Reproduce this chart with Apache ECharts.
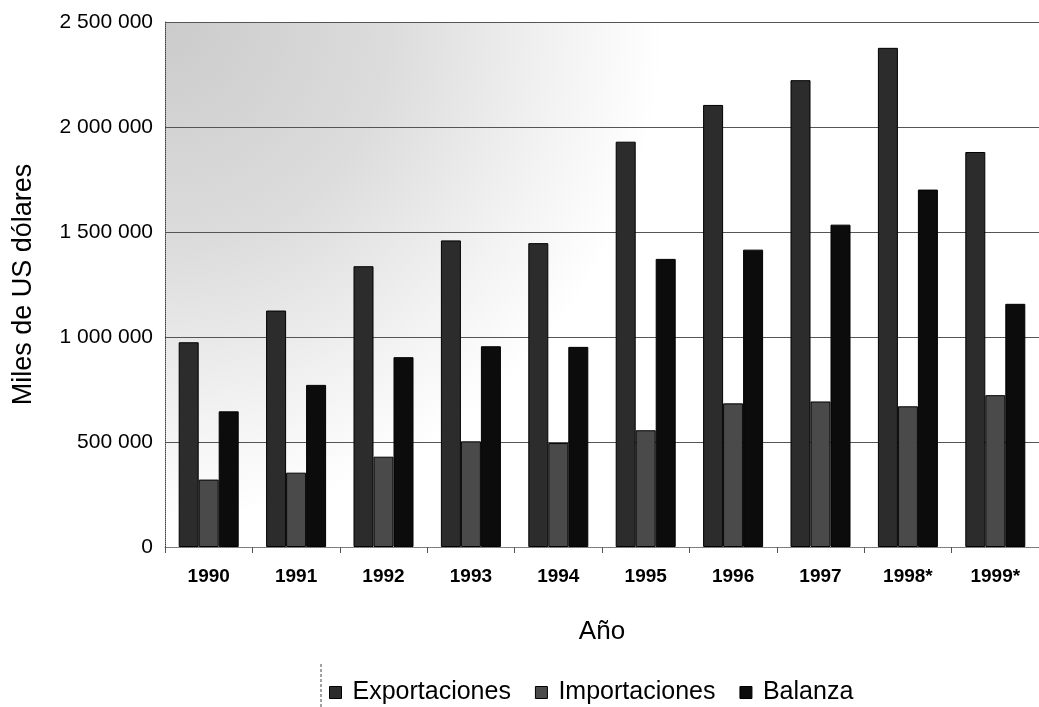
<!DOCTYPE html>
<html>
<head>
<meta charset="utf-8">
<script src="https://cdn.jsdelivr.net/npm/echarts@6/dist/echarts.min.js"></script>
<style>
html,body{margin:0;padding:0;background:#fff;}
#c{width:1039px;height:707px;}
</style>
</head>
<body>
<div id="c"></div>
<script>
const years = ['1990','1991','1992','1993','1994','1995','1996','1997','1998*','1999*'];
const exportaciones = [975000,1126000,1337000,1460000,1447000,1930000,2105000,2223000,2377000,1881000];
const importaciones = [321000,354000,430000,503000,495000,556000,684000,693000,670000,723000];
const balanza = [646000,772000,904000,956000,953000,1372000,1416000,1535000,1702000,1158000];
const yTicks = {min:0, max:2500000, interval:500000};

function fmt(v){ return String(v).replace(/\B(?=(\d{3})+(?!\d))/g,' '); }

const chart = echarts.init(document.getElementById('c'));
const font = 'Liberation Sans, Arial, sans-serif';
const barStyle = (c) => ({color:c, borderColor:'#000', borderWidth:1});
chart.setOption({
  animation:false,
  backgroundColor:'#fff',
  textStyle:{fontFamily:font, color:'#000'},
  grid:{left:165, top:22, width:884, height:525, show:true, borderWidth:0,
    backgroundColor:new echarts.graphic.RadialGradient(0,0,0.95,[
      {offset:0,color:'#cbcbcb'},{offset:0.45,color:'#dcdcdc'},{offset:0.8,color:'#f3f3f3'},{offset:1,color:'#ffffff'}])},
  legend:{left:329, top:680, padding:0, itemWidth:12, itemHeight:12, itemGap:24, icon:'rect',
    textStyle:{fontSize:25, fontFamily:font, color:'#000', padding:[0,0,0,6]},
    itemStyle:{borderColor:'#000', borderWidth:1},
    data:['Exportaciones','Importaciones','Balanza']},
  xAxis:{type:'category', data:years,
    name:'Año', nameLocation:'middle', nameGap:72,
    nameTextStyle:{fontSize:26, fontFamily:font, color:'#000'},
    axisLine:{show:true, lineStyle:{color:'#888', type:'dotted'}},
    axisTick:{show:true, length:6, lineStyle:{color:'#555'}},
    axisLabel:{fontSize:19, fontWeight:'bold', color:'#000', margin:20}},
  yAxis:{type:'value', min:yTicks.min, max:yTicks.max, interval:yTicks.interval,
    name:'Miles de US dólares', nameLocation:'middle', nameGap:128,
    nameTextStyle:{fontSize:27, fontFamily:font, color:'#000'},
    axisLine:{show:true, lineStyle:{color:'#444', type:'dotted'}},
    axisTick:{show:false},
    splitLine:{show:true, lineStyle:{color:'#555', width:1}},
    axisLabel:{fontSize:21, color:'#000', margin:12, formatter:fmt}},
  series:[
    {name:'Exportaciones', type:'bar', data:exportaciones, barWidth:20, barGap:'0%', itemStyle:barStyle('#2c2c2c')},
    {name:'Importaciones', type:'bar', data:importaciones, barWidth:20, barGap:'0%', itemStyle:barStyle('#4a4a4a')},
    {name:'Balanza', type:'bar', data:balanza, barWidth:20, barGap:'0%', itemStyle:barStyle('#0c0c0c')}
  ],
  graphic:[{type:'line', shape:{x1:321,y1:664,x2:321,y2:707}, style:{stroke:'#444', lineWidth:1, lineDash:[3,2]}}]
});
</script>
</body>
</html>
